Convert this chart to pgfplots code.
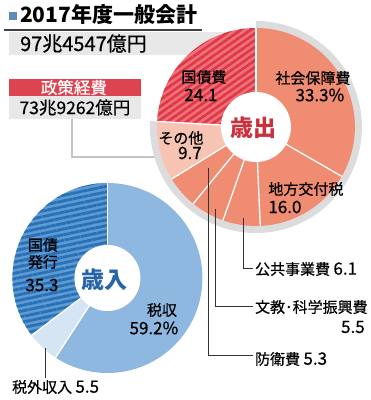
\documentclass[border=0pt]{standalone}
\usepackage{fontspec}
\setmainfont{Noto Sans CJK JP}
\newfontfamily\med{Noto Sans CJK JP}[FakeBold=0.6]
\usepackage{pgfplots}
\pgfplotsset{compat=1.18}
\usepackage{pgfplotstable}
\usetikzlibrary{patterns.meta}

\definecolor{sal}{HTML}{F08C72}
\definecolor{oth}{HTML}{F7C4B4}
\definecolor{redB}{HTML}{F0707A}
\definecolor{redD}{HTML}{DC3846}
\definecolor{ringg}{HTML}{DCDCDC}
\definecolor{boxg}{HTML}{E8E8E8}
\definecolor{boxr}{HTML}{DC4450}
\definecolor{bTax}{HTML}{8EB8E0}
\definecolor{bOth}{HTML}{D6E5F3}
\definecolor{bBondB}{HTML}{5D9BD3}
\definecolor{bBondD}{HTML}{2A70B6}
\definecolor{txtR}{HTML}{C8323C}
\definecolor{txtB}{HTML}{2765A8}
\definecolor{bullet}{HTML}{5B8DB8}
\definecolor{lineg}{HTML}{C4C4C4}

\tikzset{
  sal/.style={fill=sal},
  oth/.style={fill=oth},
  kokusai/.style={fill=redB, postaction={pattern color=redD, pattern={Lines[angle=35,distance=5.5pt,line width=2.6pt]}}},
  zeishu/.style={fill=bTax},
  zeigai/.style={fill=bOth},
  kousai/.style={fill=bBondB, postaction={pattern color=bBondD, pattern={Lines[angle=12,distance=5.5pt,line width=2.8pt]}}},
}

\newcommand\fs{\med\fontsize{15}{17}\selectfont}
\newcommand\fn{\med\fontsize{17}{19}\selectfont}

% expenditure (歳出), clockwise from top
\pgfplotstableread{
v sty
33.3 sal
16.0 sal
6.1 sal
5.5 sal
5.3 sal
9.7 oth
24.1 kokusai
}\exptab
% revenue (歳入), clockwise from top
\pgfplotstableread{
v sty
59.2 zeishu
5.5 zeigai
35.3 kousai
}\revtab

\newcommand\slice[6]{%
  \pgfmathsetmacro\aA{90-3.6*#4}%
  \pgfmathsetmacro\aB{90-3.6*(#4+#5)}%
  \edef\temp{\noexpand\path[#6] (axis cs:#1,#2) -- ++(\aA:#3pt) arc[start angle=\aA,end angle=\aB,radius=#3pt] -- cycle;}%
  \temp}
\newcommand\sep[4]{%
  \pgfmathsetmacro\aA{90-3.6*#4}%
  \edef\temp{\noexpand\draw[white,line width=1.3pt] (axis cs:#1,#2) -- ++(\aA:#3pt);}%
  \temp}
\newcommand\donut[5]{%
  \gdef\cum{0}%
  \pgfplotsforeachungrouped \i in {0,...,#2}{%
    \pgfplotstablegetelem{\i}{v}\of#1\let\vv\pgfplotsretval
    \pgfplotstablegetelem{\i}{sty}\of#1\let\sty\pgfplotsretval
    \slice{#3}{#4}{#5}{\cum}{\vv}{\sty}%
    \pgfmathsetmacro\newcum{\cum+\vv}\global\let\cum\newcum
  }%
  \gdef\cum{0}%
  \pgfplotsforeachungrouped \i in {0,...,#2}{%
    \pgfplotstablegetelem{\i}{v}\of#1\let\vv\pgfplotsretval
    \sep{#3}{#4}{#5}{\cum}%
    \pgfmathsetmacro\newcum{\cum+\vv}\global\let\cum\newcum
  }}

\begin{document}
\begin{tikzpicture}
\begin{axis}[width=367pt,height=400pt,scale only axis,
  xmin=0,xmax=367,ymin=0,ymax=400,hide axis,clip=false]
\path (rel axis cs:0,0) rectangle (rel axis cs:1,1);
% title
\fill[bullet] (axis cs:5,380) rectangle (axis cs:13,388);
\node[anchor=west,inner sep=0,font=\fontsize{21}{23}\selectfont\bfseries] at (axis cs:16,385) {2017年度一般会計};
\draw[black!75,line width=1.2pt] (axis cs:0,370) -- (axis cs:198,370);
% total box
\fill[boxg] (axis cs:5,345) rectangle (axis cs:253,368);
\node[anchor=west,inner sep=0,font=\med\fontsize{20}{22}\selectfont] at (axis cs:16,356.5) {97兆4547億円};
% policy expenditure boxes
\fill[boxr] (axis cs:5,304) rectangle (axis cs:137,321);
\node[inner sep=0,text=white,font=\med\fontsize{16.5}{18}\selectfont] at (axis cs:70,312.5) {政策経費};
\fill[boxg] (axis cs:5,281) rectangle (axis cs:137,304);
\node[inner sep=0,font=\med\fontsize{17.5}{19}\selectfont] at (axis cs:71,292.5) {73兆9262億円};
\draw[lineg,line width=1.5pt] (axis cs:68,281) -- (axis cs:68,243) -- (axis cs:152,243);

% upper donut: gray ring for policy expenditure (75.9%)
\slice{252}{273}{106}{0}{75.9}{fill=ringg}
\donut{\exptab}{6}{252}{273}{99}
\fill[white] (axis cs:252,273) circle[radius=35pt];
\node[inner sep=0,text=txtR,font=\fontsize{23}{25}\selectfont\bfseries] at (axis cs:250,272) {歳出};

% labels upper
\node[inner sep=0,font=\fs] at (axis cs:200,323) {国債費};
\node[inner sep=0,font=\fn] at (axis cs:197,305) {24.1};
\node[inner sep=0,font=\fs] at (axis cs:309,322) {社会保障費};
\node[inner sep=0,font=\fn] at (axis cs:316,305) {33.3\%};
\node[inner sep=0,font=\fs] at (axis cs:177,262) {その他};
\node[inner sep=0,font=\fn] at (axis cs:186,247) {9.7};
\node[inner sep=0,font=\fs] at (axis cs:302,211) {地方交付税};
\node[inner sep=0,font=\fn] at (axis cs:281,193) {16.0};

% leaders
\draw[black!80,line width=0.9pt] (axis cs:240,182) -- (axis cs:240,132) -- (axis cs:249,132);
\draw[black!80,line width=0.9pt] (axis cs:212,191) -- (axis cs:212,94) -- (axis cs:249,94);
\draw[black!80,line width=0.9pt] (axis cs:205,232) -- (axis cs:205,45) -- (axis cs:249,45);
\node[anchor=west,inner sep=0] at (axis cs:251,131) {\fs 公共事業費 \fn 6.1};
\node[anchor=west,inner sep=0,font=\fs] at (axis cs:251,93) {文教･科学振興費};
\node[anchor=east,inner sep=0,font=\fn] at (axis cs:361,73) {5.5};
\node[anchor=west,inner sep=0] at (axis cs:251,41) {\fs 防衛費 \fn 5.3};

% lower donut
\donut{\revtab}{2}{103.5}{122}{95}
\fill[white] (axis cs:103.5,122) circle[radius=33pt];
\node[inner sep=0,text=txtB,font=\fontsize{23}{25}\selectfont\bfseries] at (axis cs:101,120) {歳入};
\node[inner sep=0,font=\fs] at (axis cs:39,155) {国債};
\node[inner sep=0,font=\fs] at (axis cs:39,138) {発行};
\node[inner sep=0,font=\fn] at (axis cs:38,115) {35.3};
\node[inner sep=0,font=\fs] at (axis cs:158,90) {税収};
\node[inner sep=0,font=\fn] at (axis cs:150,72) {59.2\%};
\draw[black!80,line width=0.9pt] (axis cs:42,52) -- (axis cs:42,22);
\node[anchor=west,inner sep=0] at (axis cs:8,13) {\fs 税外収入 \fn 5.5};
\end{axis}
\end{tikzpicture}
\end{document}
